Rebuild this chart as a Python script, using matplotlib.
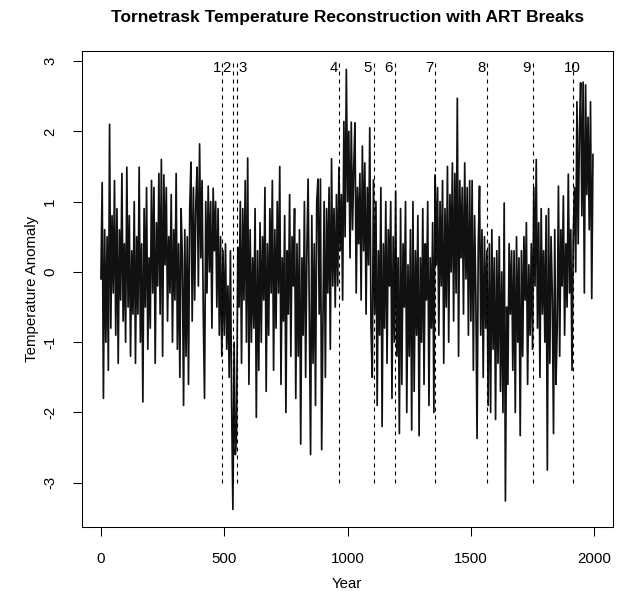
import numpy as np
import matplotlib
matplotlib.use("Agg")
import matplotlib.pyplot as plt

plt.rcParams['font.family'] = ['Liberation Sans', 'DejaVu Sans']

# ---- data (5-year samples) ----
years = np.arange(0, 2000, 5)
anomaly = [
    -0.1, 1.27, -1.8, 0.6, -1.0, 0.5, -1.4, 2.1, -0.8, 0.8,
    -0.3, 1.3, -0.9, 0.9, -1.3, 0.6, -0.4, 1.4, -0.7, 0.4,
    -1.0, 1.49, -0.5, 0.8, -1.2, 0.3, -0.6, 1.0, -1.3, 0.5,
    -0.6, 1.49, -1.0, 0.4, -1.85, 0.9, -0.5, 1.2, -1.1, 0.2,
    -0.8, 1.3, -0.3, 1.2, -1.3, 0.7, -0.2, 1.4, -0.6, 1.6,
    -1.2, 1.38, 0.1, 1.2, -0.7, 0.5, -0.3, 1.1, -1.0, 0.6,
    -0.4, 1.4, -1.1, 0.4, -1.5, 0.9, 0.2, -1.9, 0.6, -1.2,
    0.5, -1.6, 0.9, 1.56, -0.7, 1.2, -0.4, 1.0, 1.49, -0.2,
    1.82, 0.2, 1.3, -0.6, -1.8, 1.0, -0.3, 1.22, 0.0, 1.0,
    -0.8, 1.19, 0.3, 1.0, -0.5, 0.9, -0.9, 0.5, -1.2, 0.3,
    -0.9, 0.4, -1.1, -0.2, -1.5, 0.3, -1.9, -3.38, -1.0, -2.6,
    -2.3, 0.35, -0.5, 1.0, -1.3, 0.9, -0.4, 1.3, -1.0, 1.62,
    -1.6, 0.6, -1.0, 0.2, -0.8, 0.9, -2.07, 0.3, -1.4, 0.7,
    -1.0, 0.5, -0.4, 1.2, -1.7, 0.4, -0.9, 0.9, -0.3, 1.3,
    -1.4, 0.6, -0.8, 1.0, -0.3, 1.5, -1.6, 0.2, -0.7, 0.8,
    -2.0, 0.3, -0.6, 1.1, -1.2, 0.5, -0.2, 0.9, -1.8, 0.4,
    -1.2, 0.6, -2.45, 0.2, -0.9, 1.0, -1.5, 0.3, 1.32, -0.6,
    -2.6, 0.8, -1.3, 0.4, -1.9, 1.0, 1.32, -0.6, 1.32, -2.53,
    -0.7, 1.0, -1.5, 0.9, -0.3, 1.2, -1.1, 1.61, -0.2, 0.9,
    -0.5, 1.1, -0.2, 1.49, 0.3, 1.1, -0.4, 2.14, 0.5, 2.88,
    1.0, 2.0, 0.2, 2.13, 0.6, 1.5, 2.12, -0.3, 1.2, 0.4,
    1.4, -0.4, 1.79, 0.3, 1.55, -0.6, 1.2, 0.1, 2.05, -0.8,
    -1.5, 1.31, -0.6, 1.0, -1.9, 0.3, -0.9, 1.2, -2.2, 0.4,
    -0.8, 1.0, -1.3, 0.6, -0.2, 1.0, -1.8, 0.5, -1.0, 1.15,
    -1.2, 0.2, -2.3, 0.9, -1.6, 0.4, -0.5, 1.0, -2.0, 0.1,
    -1.2, 0.6, -2.25, 1.0, -1.7, 0.3, -0.9, 0.8, -2.33, 0.2,
    -1.0, 0.9, -1.6, 0.4, -0.4, 1.0, -1.9, 0.2, -0.8, 0.7,
    -2.0, 1.38, 0.1, 1.2, -0.9, 1.0, -0.2, 1.3, -1.3, 0.9,
    -0.5, 1.5, -1.0, 1.1, 0.0, 1.55, -0.7, 1.4, -0.3, 2.47,
    -1.2, 1.3, 0.2, 1.2, -0.6, 1.55, -0.1, 1.2, -0.9, 1.3,
    -0.7, 1.3, -1.4, 0.8, -0.3, -2.37, 0.4, 1.22, -0.9, 0.6,
    -1.5, 0.5, -0.8, 0.3, -1.9, 0.4, -2.0, 0.6, -1.1, 0.2,
    -2.1, 0.3, -1.3, 0.5, -1.7, 0.0, -2.0, 0.98, -3.26, -0.5,
    -1.6, 0.4, -0.6, 0.3, -1.4, 0.3, -2.0, 0.5, -1.0, 0.2,
    -2.33, 0.3, -1.2, 0.5, -0.4, 0.7, -1.6, 0.1, -0.9, 0.4,
    -1.1, 1.2, -0.2, 1.6, -0.8, 0.7, -1.5, 0.9, -0.6, 0.3,
    -1.0, 0.8, -2.82, 0.9, -1.3, 0.5, -0.3, -2.3, 0.6, -1.6,
    -0.8, 1.22, -1.2, 0.6, -0.2, 1.08, -0.9, 0.4, -0.5, 1.39,
    -0.3, 0.6, -1.4, 0.5, 1.2, 0.0, 2.42, 0.4, 2.0, 2.69,
    0.8, 2.7, -0.3, 2.66, 1.1, 2.2, 0.6, 2.42, -0.38, 1.67,
]

breaks = [491, 536, 551, 964, 1106, 1193, 1354, 1566, 1750, 1913]
break_labels = ["1", "2", "3", "4", "5", "6", "7", "8", "9", "10"]
label_dx = [-21, -29, 23, -21, -27, -27, -23, -23, -23, 0]

x_ticks = [0, 500, 1000, 1500, 2000]
y_ticks = [-3, -2, -1, 0, 1, 2, 3]

W, H = 617, 591
fig = plt.figure(figsize=(W / 100, H / 100), dpi=100)
ax = fig.add_axes([81.7 / W, 1 - 527 / H, (612.7 - 81.7) / W, (527 - 50.5) / H])

ax.plot(years, anomaly, color='#111111', lw=1.25)
ax.vlines(breaks, -3, 3, colors='black', linestyles=(0, (3.6, 3.6)), lw=0.8)
for b, lab, dx in zip(breaks, break_labels, label_dx):
    ax.text(b + dx, 2.9, lab, ha='center', va='center', fontsize=10.8)

ax.set_xlim(-78, 2075)
ax.set_ylim(-3.63, 3.15)
ax.set_xticks(x_ticks)
ax.set_yticks(y_ticks)
ax.set_xticklabels([str(v) for v in x_ticks])
ax.set_yticklabels([str(v) for v in y_ticks])
ax.tick_params(axis='both', length=6.3, width=0.75, labelsize=10.8, pad=11.5, direction='out')
ax.tick_params(axis='y', labelrotation=90)
for lab in ax.get_yticklabels():
    lab.set_va('center')
for sp in ax.spines.values():
    sp.set_linewidth(0.75)

fig.text(347.2 / W, 1 - 17.5 / H, "Tornetrask Temperature Reconstruction with ART Breaks",
         ha='center', va='center', fontsize=12.5, fontweight='bold')
fig.text(347.2 / W, 1 - 584.5 / H, "Year", ha='center', va='center', fontsize=10.8)
fig.text(31.7 / W, 1 - 288.75 / H, "Temperature Anomaly", ha='center', va='center',
         rotation=90, fontsize=10.8)

fig.savefig("out.png", dpi=100)
